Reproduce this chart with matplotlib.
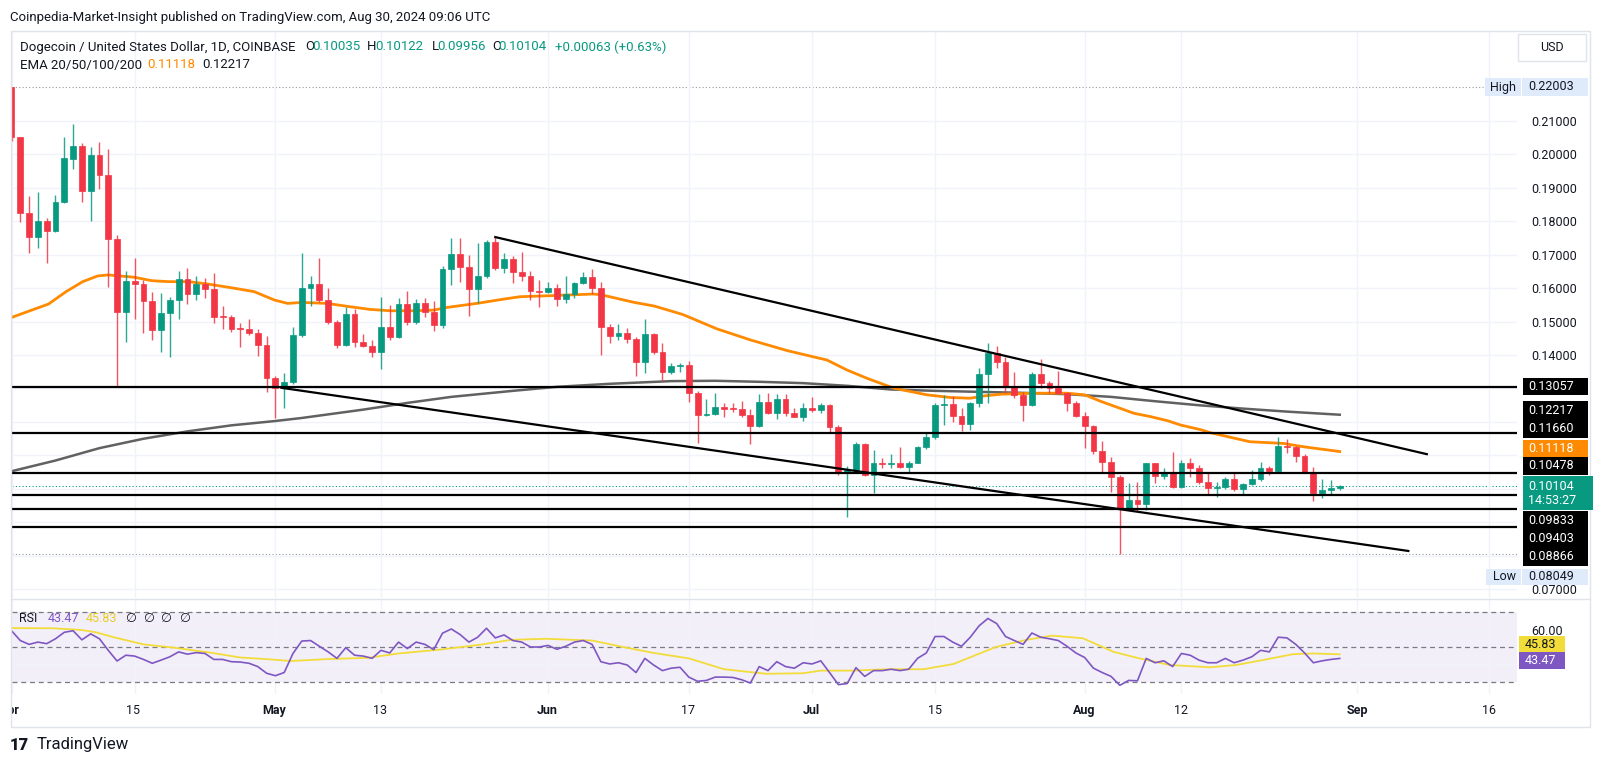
import matplotlib
matplotlib.use('Agg')
import matplotlib.pyplot as plt
import matplotlib.dates as mdates
from matplotlib.patches import Rectangle
import numpy as np
import pandas as pd

plt.rcParams['font.family'] = ['Roboto', 'DejaVu Sans']

# daily candles, 2024-04-01 .. 2024-08-30
opens = [0.2200, 0.2050, 0.1825, 0.1751, 0.1801, 0.1771, 0.1857, 0.1986, 0.2025, 0.1891,
         0.1996, 0.1937, 0.1745, 0.1527, 0.1621, 0.1611, 0.1562, 0.1475, 0.1524, 0.1564,
         0.1627, 0.1582, 0.1612, 0.1597, 0.1514, 0.1512, 0.1479, 0.1477, 0.1465, 0.1430,
         0.1332, 0.1300, 0.1320, 0.1460, 0.1599, 0.1612, 0.1564, 0.1500, 0.1430, 0.1521,
         0.1440, 0.1428, 0.1410, 0.1485, 0.1453, 0.1552, 0.1498, 0.1555, 0.1529, 0.1490,
         0.1656, 0.1701, 0.1662, 0.1596, 0.1637, 0.1738, 0.1661, 0.1687, 0.1649, 0.1637,
         0.1592, 0.1587, 0.1601, 0.1568, 0.1582, 0.1614, 0.1633, 0.1601, 0.1483, 0.1458,
         0.1465, 0.1448, 0.1379, 0.1462, 0.1410, 0.1350, 0.1367, 0.1371, 0.1288, 0.1221,
         0.1223, 0.1246, 0.1240, 0.1238, 0.1221, 0.1188, 0.1261, 0.1226, 0.1269, 0.1226,
         0.1216, 0.1243, 0.1235, 0.1251, 0.1184, 0.1047, 0.1057, 0.1134, 0.1042, 0.1077,
         0.1075, 0.1079, 0.1067, 0.1079, 0.1124, 0.1154, 0.1251, 0.1253, 0.1218, 0.1194,
         0.1256, 0.1343, 0.1405, 0.1380, 0.1303, 0.1281, 0.1251, 0.1343, 0.1315, 0.1300,
         0.1286, 0.1256, 0.1218, 0.1189, 0.1114, 0.1082, 0.1037, 0.0942, 0.0967, 0.0955,
         0.1077, 0.1040, 0.1052, 0.1005, 0.1079, 0.1064, 0.1022, 0.1002, 0.1007, 0.1030,
         0.1000, 0.1014, 0.1030, 0.1062, 0.1054, 0.1129, 0.1126, 0.1098, 0.1052, 0.0987,
         0.0997, 0.10035]
highs = [0.22003, 0.2052, 0.1875, 0.1886, 0.1810, 0.1878, 0.2052, 0.2090, 0.2034, 0.2022,
         0.2036, 0.2015, 0.1759, 0.1651, 0.1691, 0.1624, 0.1588, 0.1586, 0.1574, 0.1651,
         0.1659, 0.1635, 0.1629, 0.1646, 0.1546, 0.1519, 0.1495, 0.1508, 0.1479, 0.1458,
         0.1338, 0.1345, 0.1483, 0.1703, 0.1636, 0.1691, 0.1599, 0.1505, 0.1544, 0.1536,
         0.1463, 0.1445, 0.1574, 0.1549, 0.1569, 0.1592, 0.1566, 0.1569, 0.1561, 0.1666,
         0.1748, 0.1748, 0.1699, 0.1733, 0.1743, 0.1751, 0.1703, 0.1696, 0.1706, 0.1652,
         0.1624, 0.1617, 0.1611, 0.1636, 0.1619, 0.1649, 0.1656, 0.1618, 0.1493, 0.1493,
         0.1480, 0.1453, 0.1506, 0.1465, 0.1435, 0.1375, 0.1375, 0.1381, 0.1293, 0.1268,
         0.1288, 0.1256, 0.1256, 0.1264, 0.1238, 0.1284, 0.1288, 0.1284, 0.1284, 0.1241,
         0.1256, 0.1276, 0.1256, 0.1254, 0.1191, 0.1069, 0.1141, 0.1138, 0.1117, 0.1092,
         0.1105, 0.1126, 0.1085, 0.1128, 0.1168, 0.1258, 0.1281, 0.1278, 0.1241, 0.1261,
         0.1360, 0.1437, 0.1428, 0.1393, 0.1349, 0.1291, 0.1350, 0.1388, 0.1322, 0.1352,
         0.1291, 0.1263, 0.1231, 0.1192, 0.1144, 0.1097, 0.1042, 0.1017, 0.1022, 0.1079,
         0.1079, 0.1062, 0.1111, 0.1087, 0.1092, 0.1072, 0.1052, 0.1022, 0.1037, 0.1049,
         0.1017, 0.1057, 0.1082, 0.1069, 0.1156, 0.1148, 0.1128, 0.1103, 0.1067, 0.1029,
         0.1027, 0.10122]
lows = [0.2040, 0.1798, 0.1703, 0.1720, 0.1676, 0.1766, 0.1853, 0.1954, 0.1858, 0.1800,
        0.1897, 0.1602, 0.1303, 0.1440, 0.1506, 0.1467, 0.1445, 0.1410, 0.1393, 0.1508,
        0.1553, 0.1564, 0.1570, 0.1495, 0.1477, 0.1468, 0.1425, 0.1460, 0.1397, 0.1291,
        0.1212, 0.1241, 0.1313, 0.1455, 0.1546, 0.1559, 0.1493, 0.1420, 0.1428, 0.1423,
        0.1423, 0.1395, 0.1358, 0.1445, 0.1450, 0.1490, 0.1493, 0.1514, 0.1473, 0.1480,
        0.1609, 0.1619, 0.1517, 0.1554, 0.1629, 0.1654, 0.1644, 0.1616, 0.1622, 0.1564,
        0.1544, 0.1584, 0.1547, 0.1556, 0.1571, 0.1612, 0.1582, 0.1400, 0.1437, 0.1445,
        0.1435, 0.1337, 0.1347, 0.1403, 0.1323, 0.1343, 0.1348, 0.1261, 0.1138, 0.1219,
        0.1221, 0.1216, 0.1231, 0.1214, 0.1134, 0.1185, 0.1224, 0.1208, 0.1218, 0.1214,
        0.1204, 0.1231, 0.1226, 0.1168, 0.1041, 0.0917, 0.1052, 0.1040, 0.0987, 0.1062,
        0.1062, 0.1062, 0.1049, 0.1077, 0.1120, 0.1149, 0.1191, 0.1201, 0.1174, 0.1176,
        0.1246, 0.1258, 0.1360, 0.1286, 0.1271, 0.1203, 0.1248, 0.1302, 0.1286, 0.1283,
        0.1234, 0.1214, 0.1121, 0.1104, 0.1052, 0.0990, 0.08049, 0.0937, 0.0935, 0.0937,
        0.1017, 0.1030, 0.1002, 0.1002, 0.1037, 0.1015, 0.0982, 0.0977, 0.1000, 0.0995,
        0.0985, 0.1012, 0.1025, 0.1042, 0.1052, 0.1108, 0.1082, 0.1049, 0.0965, 0.0972,
        0.0985, 0.09956]
closes = [0.2050, 0.1825, 0.1751, 0.1801, 0.1771, 0.1857, 0.1988, 0.2025, 0.1891, 0.1996,
          0.1937, 0.1745, 0.1527, 0.1621, 0.1611, 0.1562, 0.1475, 0.1524, 0.1564, 0.1627,
          0.1582, 0.1612, 0.1597, 0.1514, 0.1512, 0.1479, 0.1477, 0.1465, 0.1430, 0.1332,
          0.1300, 0.1320, 0.1460, 0.1599, 0.1612, 0.1564, 0.1500, 0.1430, 0.1521, 0.1440,
          0.1428, 0.1410, 0.1485, 0.1453, 0.1552, 0.1498, 0.1555, 0.1529, 0.1490, 0.1656,
          0.1701, 0.1662, 0.1596, 0.1637, 0.1738, 0.1661, 0.1687, 0.1649, 0.1637, 0.1592,
          0.1587, 0.1601, 0.1568, 0.1582, 0.1614, 0.1633, 0.1601, 0.1483, 0.1458, 0.1465,
          0.1448, 0.1379, 0.1462, 0.1410, 0.1350, 0.1367, 0.1371, 0.1288, 0.1221, 0.1223,
          0.1246, 0.1240, 0.1238, 0.1221, 0.1188, 0.1261, 0.1226, 0.1269, 0.1226, 0.1216,
          0.1243, 0.1235, 0.1251, 0.1184, 0.1047, 0.1057, 0.1134, 0.1042, 0.1077, 0.1075,
          0.1079, 0.1067, 0.1079, 0.1124, 0.1154, 0.1251, 0.1253, 0.1218, 0.1194, 0.1256,
          0.1343, 0.1405, 0.1380, 0.1303, 0.1281, 0.1251, 0.1343, 0.1315, 0.1300, 0.1286,
          0.1256, 0.1218, 0.1189, 0.1114, 0.1082, 0.1037, 0.0942, 0.0967, 0.0955, 0.1077,
          0.1040, 0.1052, 0.1005, 0.1079, 0.1064, 0.1022, 0.1002, 0.1007, 0.1030, 0.1000,
          0.1014, 0.1030, 0.1062, 0.1054, 0.1129, 0.1126, 0.1098, 0.1052, 0.0987, 0.0997,
          0.10035, 0.10104]

# RSI(14), one value per candle
rsi = [59.3, 53.7, 51.5, 52.8, 51.9, 54.7, 58.4, 59.3, 54.1, 57.5,
       54.7, 48.1, 42.0, 45.3, 44.8, 42.9, 40.7, 42.5, 44.4, 47.2,
       45.9, 46.8, 46.3, 42.9, 42.9, 41.6, 41.4, 40.7, 38.8, 35.0,
       33.6, 35.4, 46.3, 53.4, 53.7, 50.4, 47.2, 43.5, 49.6, 45.3,
       44.8, 43.5, 48.1, 46.6, 52.8, 49.1, 52.8, 51.5, 48.5, 57.9,
       60.3, 57.1, 52.8, 55.6, 60.7, 55.2, 56.9, 53.7, 52.8, 50.0,
       50.0, 50.9, 48.7, 50.4, 52.8, 53.7, 51.5, 41.6, 40.3, 41.0,
       39.7, 35.4, 43.5, 39.7, 36.5, 37.9, 38.4, 32.8, 30.4, 30.9,
       32.8, 32.8, 32.6, 31.3, 29.4, 38.8, 36.5, 41.6, 38.8, 37.9,
       41.0, 40.3, 42.1, 35.4, 28.5, 29.1, 38.2, 33.2, 36.5, 36.5,
       37.3, 36.5, 37.3, 43.5, 46.6, 56.0, 56.0, 52.8, 50.4, 55.6,
       62.1, 66.3, 63.4, 56.0, 53.7, 51.5, 58.0, 55.6, 54.7, 53.7,
       50.4, 46.6, 44.0, 37.9, 35.4, 33.2, 28.1, 30.9, 30.7, 43.5,
       41.0, 42.1, 38.8, 46.3, 45.3, 42.5, 41.0, 41.0, 43.5, 41.0,
       42.5, 44.4, 48.1, 47.2, 55.6, 55.2, 51.5, 46.6, 41.0, 42.1,
       42.9, 43.47]

# RSI moving average, read at sample days (days after Apr 1)
rsi_ma_days = [0, 4.7, 8, 9.6, 11.6, 15, 18.5, 22.6, 26, 28.9, 31.8, 35.9, 40.5, 44, 48.7,
               53.3, 56.8, 60.8, 63.8, 66, 69.5, 73, 77, 81, 85.8, 90, 92, 95.6, 99.6,
               103.7, 107.1, 111.9, 115.4, 118.3, 121.8, 125.3, 128.2, 131.7, 136.3,
               139.2, 142.2, 145.7, 148, 151]
rsi_ma = [60.8, 60.7, 59.7, 58.4, 55.6, 51.5, 49.6, 46.8, 44.0, 43.1, 42.0, 43.1, 43.8, 46.3,
          48.5, 51.3, 54.1, 54.7, 54.1, 53.7, 50.0, 46.6, 43.5, 37.3, 34.7, 35.0, 36.5, 36.5,
          37.3, 37.3, 40.3, 50.0, 54.1, 56.5, 55.0, 47.2, 43.5, 39.7, 38.4, 39.7, 42.5, 45.9,
          46.3, 45.83]

# EMA lines read at sample days
ema_a_days = [0, 2.3, 4.2, 6.2, 8.1, 9.8, 11, 14, 15.9, 17.8, 20.1, 22.3, 25.4, 27.6, 29.9,
              31.4, 33, 35.9, 38.5, 40.8, 43.1, 45.7, 48, 49.5, 52.9, 55.5, 57.8, 61.2, 66.1,
              67, 70.8, 73.1, 76.3, 80.2, 84, 88.2, 92.7, 95, 97.3, 100.3, 104.1, 106.8, 109,
              110.6, 112.5, 116.3, 120, 122, 123.9, 127.6, 129.5, 131.4, 132.9, 135.2, 136.3,
              140.8, 144.6, 146.9, 151]
ema_a = [0.1512, 0.1534, 0.1552, 0.1589, 0.1619, 0.1636, 0.1639, 0.1632, 0.1622, 0.1619,
         0.1619, 0.1612, 0.1599, 0.1589, 0.1564, 0.1554, 0.1557, 0.1554, 0.1544, 0.1536,
         0.1532, 0.1532, 0.1534, 0.1542, 0.1554, 0.1565, 0.1574, 0.1577, 0.1582, 0.1580,
         0.1557, 0.1546, 0.1521, 0.1478, 0.1445, 0.1413, 0.1385, 0.1355, 0.1330, 0.1301,
         0.1281, 0.1273, 0.1271, 0.1278, 0.1283, 0.1286, 0.1286, 0.1281, 0.1261, 0.1226,
         0.1216, 0.1204, 0.1191, 0.1177, 0.1168, 0.1141, 0.1136, 0.1126, 0.11118]
ema_b_days = [0, 5, 10, 15, 20, 25, 30, 33, 40, 45, 50, 57, 62, 68, 75, 80, 85, 90, 95, 100,
              105, 110, 115, 120, 125, 130, 135, 140, 145, 151]
ema_b = [0.1053, 0.1085, 0.1122, 0.1150, 0.1172, 0.1190, 0.1203, 0.1212, 0.1237, 0.1257,
         0.1275, 0.1293, 0.1305, 0.1314, 0.1322, 0.1323, 0.1320, 0.1316, 0.1308, 0.1297,
         0.1293, 0.1290, 0.1287, 0.1283, 0.1275, 0.1262, 0.1250, 0.1240, 0.1231, 0.12217]

# drawn levels and trend lines
levels = [0.13057, 0.11660, 0.10478, 0.09833, 0.09403, 0.08866]
upper_days, upper_vals = [55, 160.9], [0.1752, 0.1104]
lower_days, lower_vals = [30.7, 158.8], [0.1302, 0.0815]
price_ticks = [0.07, 0.08, 0.09, 0.10, 0.11, 0.12, 0.13, 0.14, 0.15, 0.16, 0.17, 0.18, 0.19, 0.20, 0.21]
# ticks hidden behind the level tags in the reference
hidden_ticks = [0.08, 0.09, 0.10, 0.11, 0.12, 0.13]
date_ticks = ['2024-04-01', '2024-04-15', '2024-05-01', '2024-05-13', '2024-06-01', '2024-06-17',
              '2024-07-01', '2024-07-15', '2024-08-01', '2024-08-12', '2024-09-01', '2024-09-16']
date_labels = ['Apr', '15', 'May', '13', 'Jun', '17', 'Jul', '15', 'Aug', '12', 'Sep', '16']

GREEN, RED, ORANGE, DARK = '#089981', '#F23645', '#FF8A00', '#131722'
PURPLE, YELLOW, GRID = '#7E57C2', '#F2DC3A', '#f0f3fa'

W, H = 1600, 764
fig = plt.figure(figsize=(16, 7.64), dpi=100)


def pane(l, t, r, b):
    return fig.add_axes([l / W, 1 - b / H, (r - l) / W, (b - t) / H])


def box(x0, y0, x1, y1, fc, ec='none'):
    fig.add_artist(Rectangle((x0 / W, 1 - y1 / H), (x1 - x0) / W, (y1 - y0) / H,
                             transform=fig.transFigure, facecolor=fc, edgecolor=ec, lw=1))


def ftext(x, y, s, color=DARK, size=9, **kw):
    fig.text(x / W, 1 - y / H, s, color=color, fontsize=size, va='center', ha='left', **kw)


t0 = mdates.date2num(pd.Timestamp('2024-04-01'))
x = mdates.date2num(pd.date_range('2024-04-01', periods=len(closes), freq='D'))
o, h, l, c = map(np.array, (opens, highs, lows, closes))
col = np.where(c >= o, GREEN, RED)
tick_x = mdates.date2num(pd.to_datetime(date_ticks))
xlim = (t0 + 0.17, t0 + 171.15)

# ---- main price pane
ax = pane(11.5, 31, 1517, 598)
ax.set_xlim(*xlim)
ax.set_ylim(0.06746, 0.23672)
ax.vlines(x, l, h, colors=col, lw=1.0, alpha=0.85, zorder=3)
body = np.maximum(np.abs(c - o), 0.0003)
ax.bar(x, body, bottom=np.minimum(o, c), width=0.66, color=col, edgecolor=col, lw=0.5, zorder=4)
ax.plot(t0 + np.array(ema_b_days), ema_b, color='#505050', lw=1.8, alpha=0.9, zorder=2)
ax.plot(t0 + np.array(ema_a_days), ema_a, color=ORANGE, lw=2.0, zorder=2)
for lv in levels:
    ax.axhline(lv, color='black', lw=1.6, zorder=5)
ax.plot(t0 + np.array(upper_days), upper_vals, color='black', lw=1.6, zorder=5)
ax.plot(t0 + np.array(lower_days), lower_vals, color='black', lw=1.6, zorder=5)
ax.axhline(highs[0], color='#9598a1', lw=0.8, ls=(0, (1, 2)), zorder=1)
ax.axhline(min(lows), color='#9598a1', lw=0.8, ls=(0, (1, 2)), zorder=1)
ax.axhline(closes[-1], color=GREEN, lw=0.8, ls=(0, (1, 2)), zorder=1)
ax.set_yticks(price_ticks)
ax.set_yticklabels(['' if v in hidden_ticks else '%.5f' % v for v in price_ticks])
ax.yaxis.tick_right()
ax.tick_params(axis='y', length=0, pad=10, labelsize=9, labelcolor=DARK)
ax.set_xticks(tick_x)
ax.tick_params(axis='x', length=0, labelbottom=False)
ax.grid(color=GRID, lw=1)
for s in ax.spines.values():
    s.set_visible(False)

# ---- RSI pane
ar = pane(11.5, 600, 1517, 694)
ar.set_xlim(*xlim)
ar.set_ylim(23.14, 76.86)
ar.axhspan(30, 70, color=PURPLE, alpha=0.09, lw=0)
for v in (70, 50, 30):
    ar.axhline(v, color='#787b86', lw=0.9, ls=(0, (4, 3)))
ar.plot(t0 + np.array(rsi_ma_days), rsi_ma, color=YELLOW, lw=1.3)
ar.plot(x, rsi, color=PURPLE, lw=1.2)
ar.set_yticks([40, 60])
ar.set_yticklabels(['', '60.00'])
ar.yaxis.tick_right()
ar.tick_params(axis='y', length=0, pad=10, labelsize=9, labelcolor=DARK)
ar.set_xticks(tick_x)
ar.tick_params(axis='x', length=0, labelbottom=False)
ar.grid(color=GRID, lw=1)
for s in ar.spines.values():
    s.set_visible(False)

# ---- date strip
ad = pane(11.5, 694, 1517, 727)
ad.set_xlim(*xlim)
ad.set_ylim(0, 1)
ad.axis('off')
for tx, lab in zip(tick_x, date_labels):
    ad.text(tx, 0.5, lab, ha='center', va='center', fontsize=9, color=DARK,
            fontweight='bold' if lab.isalpha() else 'normal', clip_on=True)

# ---- frame
box(11, 31, 1590, 727, 'none', '#e0e3eb')
fig.add_artist(plt.Line2D([11 / W, 1590 / W], [1 - 599 / H, 1 - 599 / H], transform=fig.transFigure,
                          color='#e0e3eb', lw=1))

# ---- header texts
ftext(10, 17, 'Coinpedia-Market-Insight published on TradingView.com, Aug 30, 2024 09:06 UTC', size=9.5)
for s, xx, cc in [('Dogecoin / United States Dollar, 1D, COINBASE', 20, DARK), ('O', 305, DARK),
                  ('0.10035', 312.5, GREEN), ('H', 367, DARK), ('0.10122', 375, GREEN),
                  ('L', 432, DARK), ('0.09956', 437.5, GREEN), ('C', 492, DARK),
                  ('0.10104', 498.7, GREEN), ('+0.00063 (+0.63%)', 555, GREEN)]:
    ftext(xx, 47, s, color=cc, size=9.5)
for s, xx, cc in [('EMA 20/50/100/200', 20, DARK), ('0.11118', 147, ORANGE), ('0.12217', 202, DARK)]:
    ftext(xx, 65, s, color=cc, size=9.5)
for s, xx, cc in [('RSI', 19.5, DARK), ('43.47', 48, PURPLE), ('45.83', 85.5, '#E8CC2A'),
                  ('\u2205', 125.5, DARK), ('\u2205', 143, DARK), ('\u2205', 160, DARK), ('\u2205', 178.6, DARK)]:
    ftext(xx, 619, s, color=cc, size=9)

# ---- price scale tags
box(1518, 34, 1586, 61, 'white', '#e0e3eb')
ftext(1540, 47.5, 'USD', size=9)
box(1485, 78, 1521, 96, '#dfeafb')
ftext(1490, 87, 'High', size=9)
box(1522, 78, 1588, 96, '#dfeafb')
ftext(1528, 87, '%.5f' % highs[0], size=9)
box(1486, 569, 1521, 585, '#dfeafb')
ftext(1493, 577, 'Low', size=9)
box(1522, 569, 1588, 585, '#dfeafb')
ftext(1528, 577, '%.5f' % min(lows), size=9)
box(1523, 378, 1588, 395, 'black')
ftext(1528, 386.5, '0.13057', color='white', size=9)
box(1523, 401, 1588, 438, 'black')
ftext(1528, 410.5, '%.5f' % ema_b[-1], color='white', size=9)
ftext(1528, 428.5, '0.11660', color='white', size=9)
box(1523, 440, 1588, 457, ORANGE)
ftext(1528, 448.5, '%.5f' % ema_a[-1], color='white', size=9)
box(1523, 457, 1588, 475, 'black')
ftext(1528, 466, '0.10478', color='white', size=9)
box(1523, 476, 1593, 510, GREEN)
ftext(1528, 486, '%.5f' % closes[-1], color='white', size=9)
ftext(1528, 500, '14:53:27', color='white', size=9)
box(1523, 511, 1588, 566, 'black')
ftext(1528, 520.5, '0.09833', color='white', size=9)
ftext(1528, 538.5, '0.09403', color='white', size=9)
ftext(1528, 556, '0.08866', color='white', size=9)
box(1519, 636, 1565, 652, YELLOW)
ftext(1525, 644, '%.2f' % rsi_ma[-1], color=DARK, size=9)
box(1519, 652, 1565, 669, PURPLE)
ftext(1525, 660.5, '%.2f' % rsi[-1], color='white', size=9)

# ---- footer logo
ftext(10, 745, '17', size=12, fontweight='black')
ftext(37, 745, 'TradingView', size=12)

fig.savefig('out.png', dpi=100)
